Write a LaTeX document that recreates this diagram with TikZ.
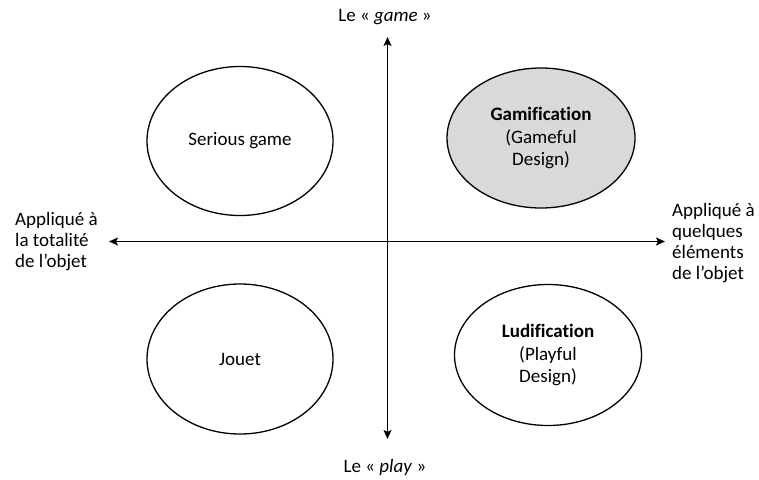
\documentclass[tikz,border=0pt]{standalone}
\usepackage{fontspec}
\setmainfont[Ligatures=CommonOff]{Carlito}
\usetikzlibrary{shapes.geometric,arrows.meta}
\begin{document}
\begin{tikzpicture}[x=1pt,y=-1pt,
  font=\fontsize{19}{21}\selectfont,
  axis/.style={line width=1.6pt,-{Stealth[length=9pt,width=8pt,inset=2pt]}},
  bubble/.style={ellipse,draw,line width=1.3pt,align=center,inner sep=0pt,
    font=\fontsize{19}{22.5}\selectfont},
  lbl/.style={align=left,anchor=west,inner sep=0pt}]
\useasboundingbox (0,0) rectangle (759,479);

% the two axes
\coordinate (c) at (387.5,241.5);
\coordinate (top) at (387.5,37);
\coordinate (bot) at (387.5,439);
\coordinate (lft) at (109,241.5);
\coordinate (rgt) at (665,241.5);
\draw[axis] (c) -- (top);
\draw[axis] (c) -- (bot);
\draw[axis] (c) -- (lft);
\draw[axis] (c) -- (rgt);

% quadrants
\node[bubble,minimum width=186pt,minimum height=149pt] (sg) at (240,141) {Serious game};
\node[bubble,fill=black!15,minimum width=188pt,minimum height=140pt] (gam) at (541,138)
  {\textbf{Gamification}\\(Gameful\\Design)};
\node[bubble,minimum width=186pt,minimum height=150pt] (jo) at (240,359) {Jouet};
\node[bubble,minimum width=187pt,minimum height=141pt] (lud) at (548,355)
  {\textbf{Ludification}\\(Playful\\Design)};

% axis labels
\node (tg) at (385,17) {Le « \textit{game} »};
\node (tp) at (385,467) {Le « \textit{play} »};
\node[lbl] (tl) at (15,242) {Appliqué à\\la totalité\\de l’objet};
\node[lbl] (tr) at (672,243) {Appliqué à\\quelques\\éléments\\de l’objet};
\end{tikzpicture}
\end{document}
